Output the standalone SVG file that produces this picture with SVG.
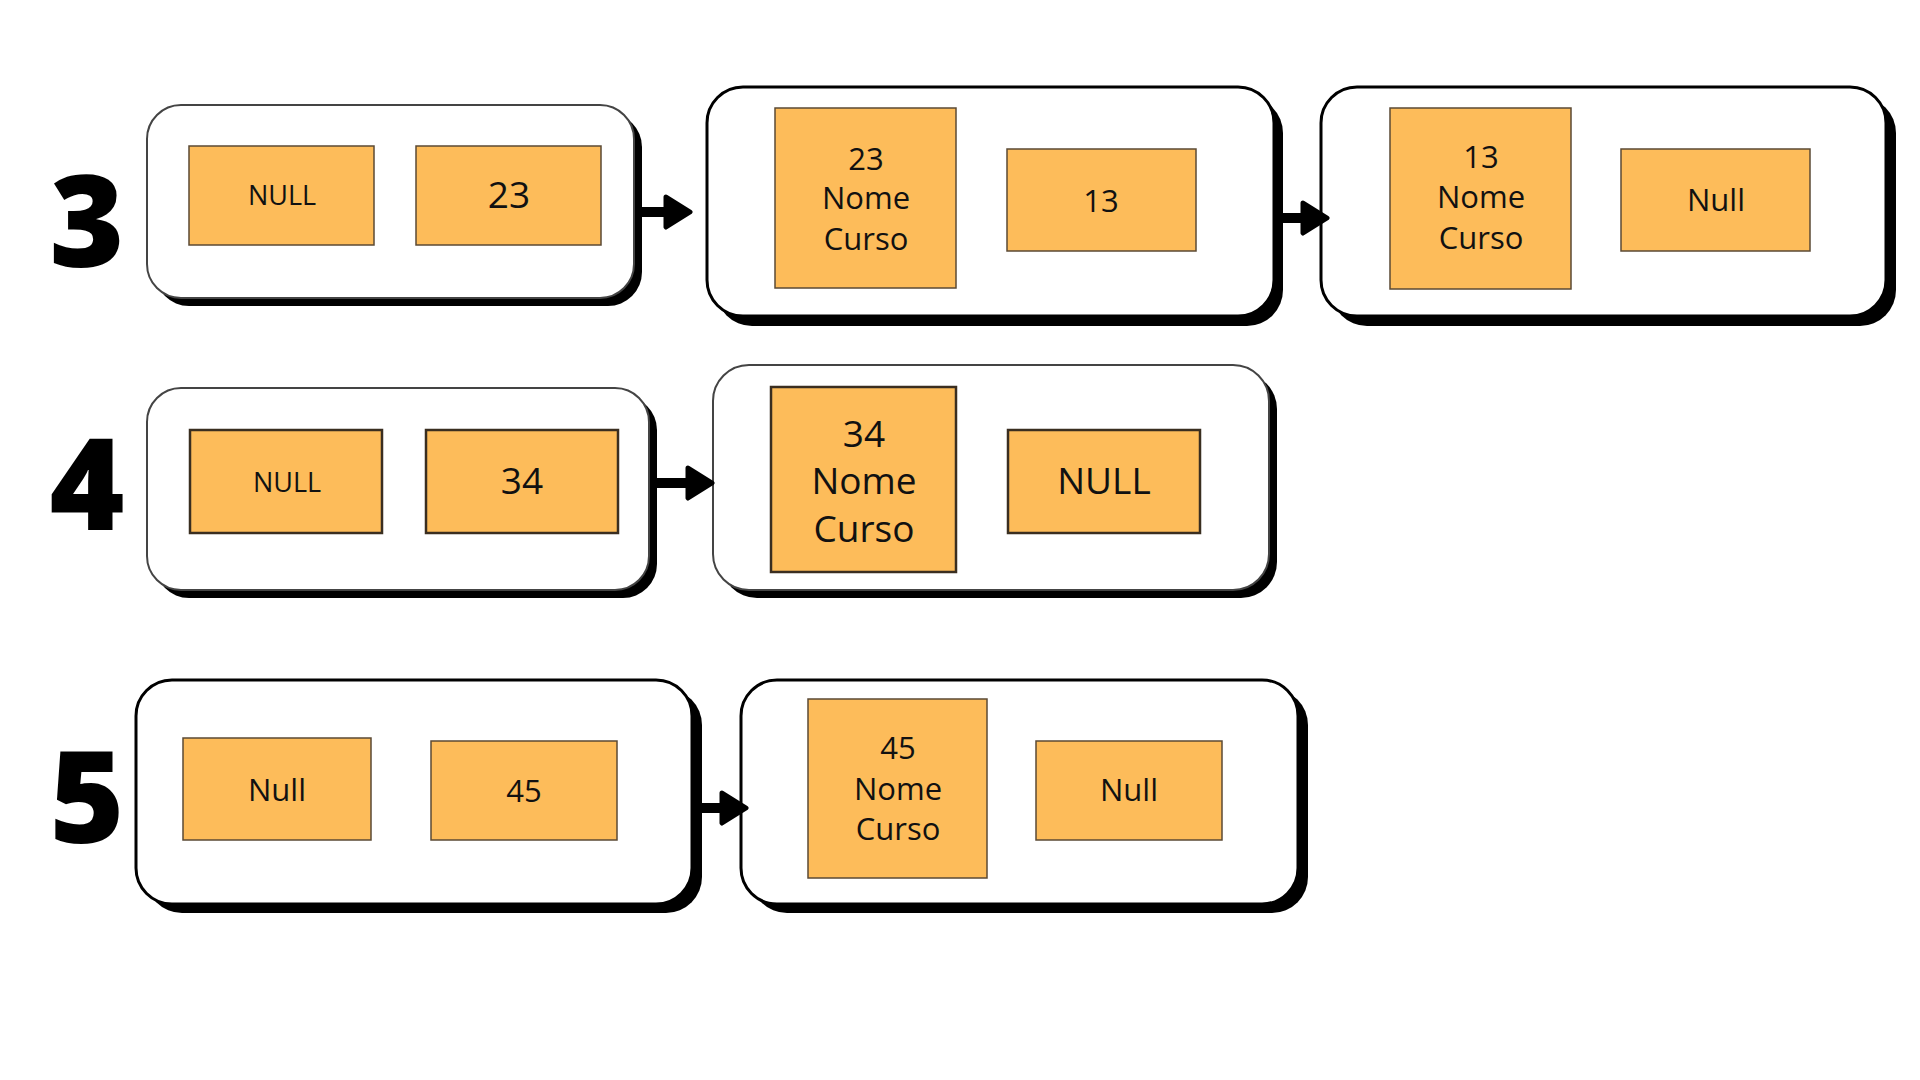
<svg xmlns="http://www.w3.org/2000/svg" width="1920" height="1080" viewBox="0 0 1920 1080">
<defs>
<style>
.shadow{fill:#000}
.cont{fill:#fff;stroke:#000;stroke-width:3}
.cont2{fill:#fff;stroke:#444;stroke-width:2}
.cell{fill:#FDBC5A;stroke:#5b4a35;stroke-width:1.5}
.cell2{fill:#FDBC5A;stroke:#3a2e20;stroke-width:2.5}
.t{font-family:"Open Sans","Liberation Sans",sans-serif;fill:#111;text-anchor:middle}
.num{font-family:"Open Sans","Liberation Sans",sans-serif;font-weight:800;fill:#000;text-anchor:middle;font-size:128px}
.arr{stroke:#000;stroke-width:10;fill:none;marker-end:url(#ah)}
</style>
<marker id="ah" markerUnits="userSpaceOnUse" markerWidth="32" markerHeight="38" refX="15" refY="18" orient="auto" overflow="visible">
<path d="M3,3 L27,18 L3,33 Z" fill="#000" stroke="#000" stroke-width="5" stroke-linejoin="round"/>
</marker>
</defs>
<rect width="1920" height="1080" fill="#fff"/>

<text class="num" x="87" y="267">3</text>
<text class="num" x="87" y="530">4</text>
<text class="num" x="87" y="843">5</text>

<g id="row3-node1">
<rect class="shadow" x="155" y="113" width="487" height="193" rx="34"/>
<rect class="cont2" x="147" y="105" width="487" height="193" rx="34"/>
<rect class="cell" x="189" y="146" width="185" height="99"/>
<text class="t" x="282" y="205" font-size="27">NULL</text>
<rect class="cell" x="416" y="146" width="185" height="99"/>
<text class="t" x="509" y="208" font-size="37">23</text>
</g>

<g id="row3-node2">
<rect class="shadow" x="716" y="97" width="567" height="229" rx="36"/>
<rect class="cont" x="707" y="87" width="567" height="229" rx="36"/>
<rect class="cell" x="775" y="108" width="181" height="180"/>
<text class="t" x="866" y="170" font-size="31">23</text>
<text class="t" x="866" y="209" font-size="31">Nome</text>
<text class="t" x="866" y="250" font-size="31">Curso</text>
<rect class="cell" x="1007" y="149" width="189" height="102"/>
<text class="t" x="1101" y="212" font-size="31">13</text>
</g>

<g id="row3-node3">
<rect class="shadow" x="1331" y="97" width="565" height="229" rx="36"/>
<rect class="cont" x="1321" y="87" width="565" height="229" rx="36"/>
<rect class="cell" x="1390" y="108" width="181" height="181"/>
<text class="t" x="1481" y="168" font-size="31">13</text>
<text class="t" x="1481" y="208" font-size="31">Nome</text>
<text class="t" x="1481" y="249" font-size="31">Curso</text>
<rect class="cell" x="1621" y="149" width="189" height="102"/>
<text class="t" x="1716" y="211" font-size="31">Null</text>
</g>

<g id="row4-node1">
<rect class="shadow" x="155" y="396" width="502" height="202" rx="34"/>
<rect class="cont2" x="147" y="388" width="502" height="202" rx="34"/>
<rect class="cell2" x="190" y="430" width="192" height="103"/>
<text class="t" x="287" y="492" font-size="27">NULL</text>
<rect class="cell2" x="426" y="430" width="192" height="103"/>
<text class="t" x="522" y="494" font-size="37">34</text>
</g>

<g id="row4-node2">
<rect class="shadow" x="721" y="373" width="556" height="225" rx="36"/>
<rect class="cont2" x="713" y="365" width="556" height="225" rx="36"/>
<rect class="cell2" x="771" y="387" width="185" height="185"/>
<text class="t" x="864" y="447" font-size="37">34</text>
<text class="t" x="864" y="494" font-size="37">Nome</text>
<text class="t" x="864" y="542" font-size="37">Curso</text>
<rect class="cell2" x="1008" y="430" width="192" height="103"/>
<text class="t" x="1104" y="494" font-size="37">NULL</text>
</g>

<g id="row5-node1">
<rect class="shadow" x="146" y="689" width="556" height="224" rx="36"/>
<rect class="cont" x="136" y="680" width="556" height="224" rx="36"/>
<rect class="cell" x="183" y="738" width="188" height="102"/>
<text class="t" x="277" y="801" font-size="31">Null</text>
<rect class="cell" x="431" y="741" width="186" height="99"/>
<text class="t" x="524" y="802" font-size="31">45</text>
</g>

<g id="row5-node2">
<rect class="shadow" x="751" y="689" width="557" height="224" rx="36"/>
<rect class="cont" x="741" y="680" width="557" height="224" rx="36"/>
<rect class="cell" x="808" y="699" width="179" height="179"/>
<text class="t" x="898" y="759" font-size="31">45</text>
<text class="t" x="898" y="800" font-size="31">Nome</text>
<text class="t" x="898" y="840" font-size="31">Curso</text>
<rect class="cell" x="1036" y="741" width="186" height="99"/>
<text class="t" x="1129" y="801" font-size="31">Null</text>
</g>

<g id="connectors">
<line class="arr" x1="641" y1="212" x2="678" y2="212"/>
<line class="arr" x1="1282" y1="218" x2="1315" y2="218"/>
<line class="arr" x1="656" y1="483" x2="700" y2="483"/>
<line class="arr" x1="701" y1="808" x2="734" y2="808"/>
</g>
</svg>
